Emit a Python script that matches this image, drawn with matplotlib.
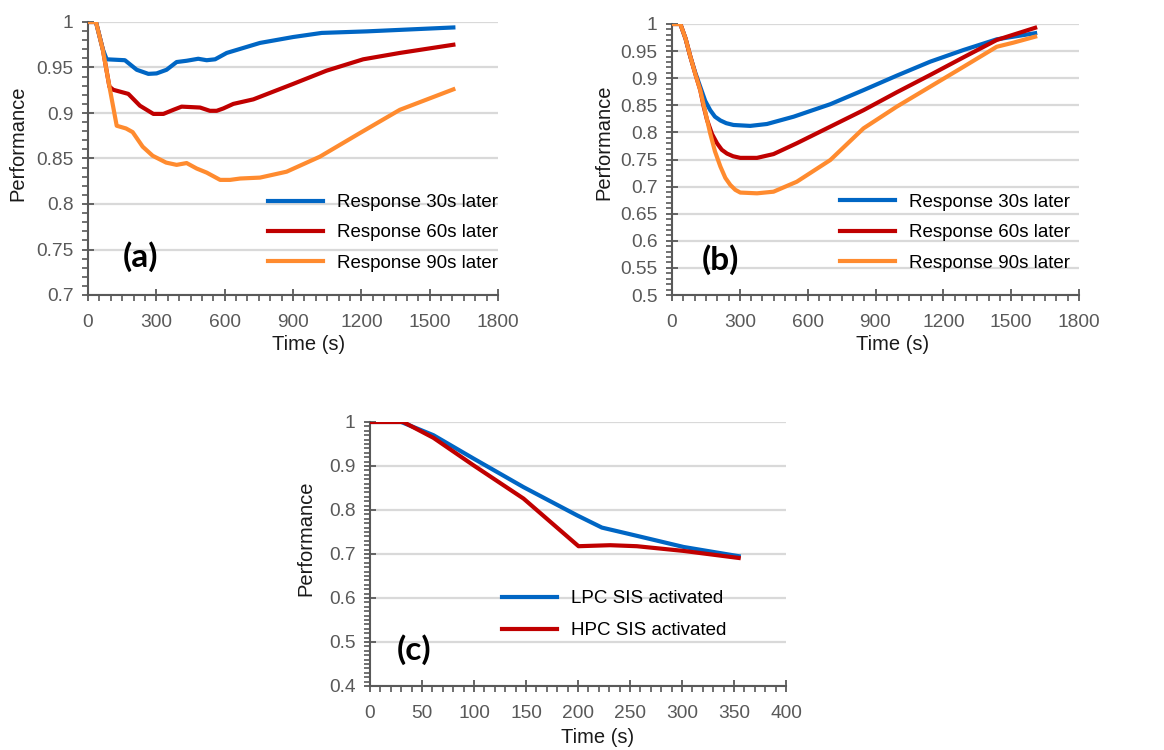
import matplotlib
matplotlib.use("Agg")
import matplotlib.pyplot as plt
from matplotlib.ticker import MultipleLocator, FuncFormatter

plt.rcParams['font.family'] = ['Liberation Sans', 'DejaVu Sans']

# ---------------- data ----------------
# Panel (a)
a_blue_t = [0, 35, 65, 82, 162, 214, 265, 301, 345, 389, 433, 484, 521, 558, 609, 755, 901, 1026, 1224, 1604]
a_blue_v = [1, 1, 0.970, 0.959, 0.958, 0.9475, 0.943, 0.9435, 0.9475, 0.956, 0.9574, 0.9596, 0.958, 0.959, 0.966, 0.977, 0.9835, 0.988, 0.9897, 0.994]
a_red_t = [0, 35, 65, 94, 111, 177, 228, 287, 331, 375, 411, 492, 535, 565, 594, 638, 726, 901, 1047, 1208, 1369, 1604]
a_red_v = [1, 1, 0.970, 0.929, 0.9255, 0.921, 0.908, 0.899, 0.899, 0.9035, 0.907, 0.906, 0.9024, 0.9024, 0.905, 0.910, 0.915, 0.932, 0.9465, 0.959, 0.966, 0.975]
a_orange_t = [0, 35, 65, 94, 126, 167, 196, 240, 284, 343, 389, 433, 477, 521, 580, 624, 668, 755, 872, 1018, 1194, 1369, 1604]
a_orange_v = [1, 1, 0.9695, 0.929, 0.886, 0.883, 0.879, 0.863, 0.853, 0.8455, 0.843, 0.845, 0.839, 0.8345, 0.8265, 0.8265, 0.828, 0.829, 0.8355, 0.852, 0.878, 0.9035, 0.926]

# Panel (b)
b_blue_t = [0, 37, 60, 81, 103, 125, 147, 169, 190, 214, 240, 272, 346, 420, 538, 700, 847, 994, 1142, 1289, 1436, 1606]
b_blue_v = [1, 1, 0.973, 0.940, 0.910, 0.884, 0.858, 0.841, 0.829, 0.822, 0.817, 0.8137, 0.812, 0.8155, 0.829, 0.852, 0.878, 0.9047, 0.9305, 0.952, 0.9717, 0.983]
b_red_t = [0, 37, 60, 81, 103, 125, 140, 155, 177, 199, 220, 243, 270, 302, 376, 449, 552, 700, 847, 994, 1142, 1289, 1436, 1606]
b_red_v = [1, 1, 0.973, 0.940, 0.908, 0.878, 0.848, 0.823, 0.797, 0.780, 0.768, 0.761, 0.756, 0.753, 0.753, 0.760, 0.780, 0.8106, 0.841, 0.874, 0.906, 0.9385, 0.9705, 0.993]
b_orange_t = [0, 37, 60, 81, 103, 125, 147, 169, 190, 214, 236, 258, 280, 302, 376, 449, 552, 700, 847, 994, 1142, 1289, 1436, 1510, 1606]
b_orange_v = [1, 1, 0.973, 0.940, 0.908, 0.878, 0.838, 0.798, 0.765, 0.737, 0.716, 0.703, 0.694, 0.689, 0.6876, 0.6906, 0.709, 0.749, 0.8075, 0.8475, 0.8844, 0.921, 0.958, 0.9656, 0.9766]

# Panel (c)
c_lpc_t = [0, 30, 61, 99.5, 147.6, 199, 223, 250, 301.5, 354.5]
c_lpc_v = [1, 1, 0.970, 0.917, 0.852, 0.788, 0.760, 0.745, 0.716, 0.695]
c_hpc_t = [0, 32, 61, 99.5, 147.6, 200.5, 231, 256.6, 301.5, 354.5]
c_hpc_v = [1, 1, 0.964, 0.9016, 0.826, 0.7177, 0.720, 0.7177, 0.707, 0.691]

labels_ab = ["Response 30s later", "Response 60s later", "Response 90s later"]
labels_c = ["LPC SIS activated", "HPC SIS activated"]

BLUE = '#0066C4'
RED = '#C00000'
ORANGE = '#FF8B2F'
GRID = '#D9D9D9'
AXC = '#595959'

W, H = 1164, 750
fig = plt.figure(figsize=(W / 100, H / 100), dpi=100)


def make_ax(l, r, t, b):
    return fig.add_axes([l / W, 1 - b / H, (r - l) / W, (b - t) / H])


def style(ax, xlim, xmaj, xmin, ylim, ymaj, ymin, xlab_pos, ylab_pos):
    ax.set_xlim(*xlim)
    ax.set_ylim(*ylim)
    ax.xaxis.set_major_locator(MultipleLocator(xmaj))
    ax.xaxis.set_minor_locator(MultipleLocator(xmin))
    ax.yaxis.set_major_locator(MultipleLocator(ymaj))
    ax.yaxis.set_minor_locator(MultipleLocator(ymin))
    ax.yaxis.set_major_formatter(FuncFormatter(lambda v, p: f"{v:g}"))
    for s in ['top', 'right']:
        ax.spines[s].set_visible(False)
    for s in ['left', 'bottom']:
        ax.spines[s].set_color(AXC)
        ax.spines[s].set_linewidth(1.5)
    ax.tick_params(which='major', direction='inout', length=9, width=1.3,
                   color=AXC, labelsize=13.8, labelcolor=AXC, pad=6)
    ax.tick_params(axis='x', which='major', pad=9)
    ax.tick_params(which='minor', direction='out', length=4, width=1.2, color=AXC)
    ax.grid(axis='y', which='major', color=GRID, linewidth=1.6)
    ax.set_axisbelow(True)
    ax.set_xlabel("Time (s)", fontsize=14.5, color='#1a1a1a')
    ax.set_ylabel("Performance", fontsize=14.5, color='#1a1a1a')
    ax.xaxis.set_label_coords(*xlab_pos)
    ax.yaxis.set_label_coords(*ylab_pos)


LW = 3.0
LEG = dict(loc='upper left', frameon=False, fontsize=13.5, handlelength=2.95,
           handletextpad=0.75, borderpad=0, borderaxespad=0)
PANEL = dict(fontsize=24, fontweight='bold', family=['Lato', 'DejaVu Sans'],
             ha='center', va='center')

# (a)
axa = make_ax(88, 498, 22, 295)
style(axa, (0, 1800), 300, 50, (0.7, 1.0), 0.05, 0.01, (0.537, -0.1465), (-0.149, 0.555))
axa.plot(a_blue_t, a_blue_v, color=BLUE, lw=LW, label=labels_ab[0], zorder=4)
axa.plot(a_red_t, a_red_v, color=RED, lw=LW, label=labels_ab[1], zorder=3)
axa.plot(a_orange_t, a_orange_v, color=ORANGE, lw=LW, label=labels_ab[2], zorder=5)
axa.legend(bbox_to_anchor=(0.439, 0.370), labelspacing=0.7, **LEG)
axa.text(0.127, 0.139, "(a)", transform=axa.transAxes, **PANEL)

# (b)
axb = make_ax(672, 1079, 24, 295)
style(axb, (0, 1800), 300, 50, (0.5, 1.0), 0.05, 0.01, (0.543, -0.148), (-0.145, 0.565))
axb.plot(b_blue_t, b_blue_v, color=BLUE, lw=LW, label=labels_ab[0], zorder=3)
axb.plot(b_red_t, b_red_v, color=RED, lw=LW, label=labels_ab[1], zorder=4)
axb.plot(b_orange_t, b_orange_v, color=ORANGE, lw=LW, label=labels_ab[2], zorder=5)
axb.legend(bbox_to_anchor=(0.413, 0.373), labelspacing=0.7, **LEG)
axb.text(0.120, 0.129, "(b)", transform=axb.transAxes, **PANEL)

# (c)
axc = make_ax(370, 786, 422, 686)
style(axc, (0, 400), 50, 10, (0.4, 1.0), 0.1, 0.01, (0.546, -0.159), (-0.132, 0.561))
axc.plot(c_lpc_t, c_lpc_v, color=BLUE, lw=LW, label=labels_c[0], zorder=3)
axc.plot(c_hpc_t, c_hpc_v, color=RED, lw=LW, label=labels_c[1], zorder=4)
axc.legend(bbox_to_anchor=(0.317, 0.363), labelspacing=0.8, **LEG)
axc.text(0.106, 0.136, "(c)", transform=axc.transAxes, **PANEL)

fig.savefig("out.png", dpi=100)
